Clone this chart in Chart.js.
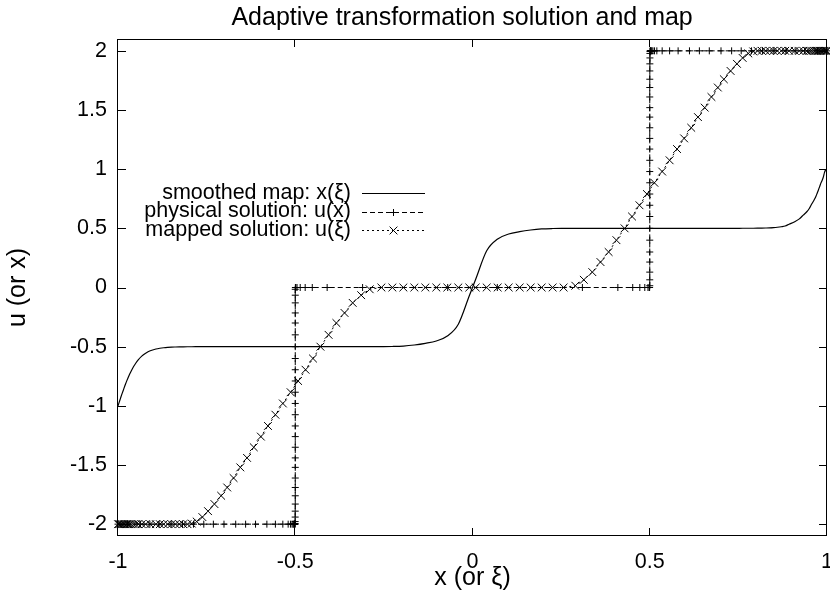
<!DOCTYPE html>
<html>
<head>
<meta charset="utf-8">
<script src="https://cdn.jsdelivr.net/npm/chart.js@4.4.0/dist/chart.umd.min.js"></script>
<style>
  html, body { margin: 0; padding: 0; background: #fff; }
</style>
</head>
<body>
<canvas id="myChart" width="830" height="596"></canvas>
<script>
// computational coordinate xi (marker positions of the mapped solution)
const xi = [
  -1.000, -0.997, -0.993, -0.990, -0.987, -0.983, -0.979, -0.975, -0.971, -0.967,
  -0.962, -0.956, -0.950, -0.943, -0.933, -0.922, -0.909, -0.893, -0.882, -0.871,
  -0.860, -0.849, -0.838, -0.827, -0.816, -0.804,
  -0.792, -0.778, -0.762, -0.746, -0.728, -0.709, -0.692, -0.674, -0.655, -0.636,
  -0.617, -0.597, -0.577, -0.556, -0.535, -0.513, -0.492, -0.471, -0.450, -0.429,
  -0.406, -0.384, -0.361, -0.338, -0.314, -0.290,
  -0.257, -0.226, -0.195, -0.164, -0.133, -0.102, -0.071, -0.040, -0.009,
  0.009, 0.040, 0.071, 0.102, 0.133, 0.164, 0.195, 0.226, 0.257,
  0.290, 0.314, 0.338, 0.361, 0.384, 0.406, 0.429, 0.450, 0.471, 0.492,
  0.513, 0.535, 0.556, 0.577, 0.597, 0.617, 0.636, 0.655, 0.674, 0.692,
  0.709, 0.728, 0.746, 0.762, 0.778, 0.792,
  0.804, 0.816, 0.827, 0.838, 0.849, 0.860, 0.871, 0.882, 0.893, 0.909,
  0.922, 0.933, 0.943, 0.950, 0.956, 0.962, 0.967, 0.971, 0.975, 0.979,
  0.983, 0.987, 0.990, 0.993, 0.997, 1.000
];

// solution values u at each grid point
const uSol = [
  -2, -2, -2, -2, -2, -2, -2, -2, -2, -2,
  -2, -2, -2, -2, -2, -2, -2, -2, -2, -2,
  -2, -2, -2, -2, -2, -2,
  -1.995, -1.978, -1.94, -1.89, -1.83, -1.76, -1.69, -1.61, -1.52, -1.44,
  -1.35, -1.26, -1.17, -1.075, -0.98, -0.885, -0.79, -0.695, -0.60, -0.50,
  -0.40, -0.30, -0.215, -0.13, -0.065, -0.015,
  0, 0, 0, 0, 0, 0, 0, 0, 0,
  0, 0, 0, 0, 0, 0, 0, 0, 0,
  0.015, 0.065, 0.13, 0.215, 0.30, 0.40, 0.50, 0.60, 0.695, 0.79,
  0.885, 0.98, 1.075, 1.17, 1.26, 1.35, 1.44, 1.52, 1.61, 1.69,
  1.76, 1.83, 1.89, 1.94, 1.978, 1.995,
  2, 2, 2, 2, 2, 2, 2, 2, 2, 2,
  2, 2, 2, 2, 2, 2, 2, 2, 2, 2,
  2, 2, 2, 2, 2, 2
];

// physical coordinate x(xi) at each grid point (smoothed map)
const xPhys = [
  -1, -0.973, -0.937, -0.910, -0.884, -0.850, -0.818, -0.787, -0.758, -0.731,
  -0.701, -0.668, -0.640, -0.612, -0.580, -0.556, -0.535, -0.520, -0.5135, -0.509,
  -0.506, -0.504, -0.5028, -0.5019, -0.5013, -0.5008,
  -0.5005, -0.5003, -0.5002, -0.5001, -0.5, -0.5, -0.5, -0.5, -0.5, -0.5,
  -0.5, -0.5, -0.5, -0.5, -0.5, -0.5, -0.5, -0.5, -0.5, -0.5,
  -0.5, -0.5, -0.5, -0.5, -0.5, -0.5,
  -0.4996, -0.4985, -0.495, -0.486, -0.472, -0.452, -0.41, -0.31, -0.07,
  0.07, 0.31, 0.41, 0.452, 0.472, 0.486, 0.495, 0.4985, 0.4996,
  0.5, 0.5, 0.5, 0.5, 0.5, 0.5, 0.5, 0.5, 0.5, 0.5,
  0.5, 0.5, 0.5, 0.5, 0.5, 0.5, 0.5, 0.5, 0.5, 0.5,
  0.5001, 0.5002, 0.5003, 0.5005, 0.5005, 0.5008,
  0.5013, 0.5019, 0.5028, 0.504, 0.506, 0.509, 0.5135, 0.520, 0.535, 0.556,
  0.580, 0.612, 0.640, 0.668, 0.701, 0.731, 0.758, 0.787, 0.818, 0.850,
  0.884, 0.910, 0.937, 0.973, 1
];

const xTicks = [-1, -0.5, 0, 0.5, 1];
const yTicks = [-2, -1.5, -1, -0.5, 0, 0.5, 1, 1.5, 2];
const seriesNames = ['smoothed map: x(\u03be)', 'physical solution: u(x)', 'mapped solution: u(\u03be)'];

const FONT = "'Liberation Sans', Arial, sans-serif";
Chart.defaults.font.family = FONT;
Chart.defaults.color = '#000';

const ctx = document.getElementById('myChart');

const mapPts = xi.map((v, i) => ({ x: v, y: xPhys[i] }));
const physPts = xPhys.map((v, i) => ({ x: v, y: uSol[i] }));
const mappedPts = xi.map((v, i) => ({ x: v, y: uSol[i] }));

const noPad = s => { s.paddingLeft = 0; s.paddingRight = 0; s.paddingTop = 0; s.paddingBottom = 0; };

// gnuplot style frame, inward ticks and key
const frame = {
  id: 'frame',
  afterDatasetsDraw(chart) {
    const c = chart.ctx;
    const a = chart.chartArea;
    const sx = chart.scales.x, sy = chart.scales.y;
    c.save();
    c.strokeStyle = '#000';
    c.lineWidth = 1;
    c.setLineDash([]);
    c.strokeRect(Math.round(a.left) - 0.5, Math.round(a.top) + 0.5,
      Math.round(a.right - a.left), Math.round(a.bottom - a.top) - 1);
    const tl = 8;
    c.beginPath();
    xTicks.forEach(v => {
      const px = Math.round(sx.getPixelForValue(v)) - 0.5;
      c.moveTo(px, a.bottom); c.lineTo(px, a.bottom - tl);
      c.moveTo(px, a.top); c.lineTo(px, a.top + tl);
    });
    yTicks.forEach(v => {
      const py = Math.round(sy.getPixelForValue(v)) + 0.5;
      c.moveTo(a.left, py); c.lineTo(a.left + tl, py);
      c.moveTo(a.right, py); c.lineTo(a.right - tl, py);
    });
    c.stroke();

    // key
    c.font = '21.5px ' + FONT;
    c.fillStyle = '#000';
    c.textAlign = 'right';
    c.textBaseline = 'middle';
    const rows = [193, 211.5, 230];
    chart.data.datasets.forEach((ds, i) => {
      const y = rows[i];
      c.fillText(seriesNames[i], 351, y);
      c.save();
      c.setLineDash(ds.borderDash || []);
      c.beginPath();
      c.moveTo(362, Math.round(y) + 0.5);
      c.lineTo(425, Math.round(y) + 0.5);
      c.stroke();
      c.restore();
      if (ds.pointRadius > 0) {
        Chart.helpers.drawPoint(c, {
          pointStyle: ds.pointStyle, radius: ds.pointRadius, rotation: 0, borderWidth: 1
        }, 393.5, Math.round(y) + 0.5);
      }
    });
    c.restore();
  }
};

new Chart(ctx, {
  type: 'scatter',
  data: {
    datasets: [{
      label: seriesNames[0],
      data: mapPts,
      showLine: true,
      borderColor: '#000',
      borderWidth: 1.2,
      pointRadius: 0,
      cubicInterpolationMode: 'monotone',
      clip: false
    }, {
      label: seriesNames[1],
      data: physPts,
      showLine: true,
      borderColor: '#000',
      borderWidth: 1,
      borderDash: [5, 3],
      pointStyle: 'cross',
      pointRadius: 3.5,
      pointBorderWidth: 1,
      pointBorderColor: '#000',
      clip: false
    }, {
      label: seriesNames[2],
      data: mappedPts,
      showLine: true,
      borderColor: '#000',
      borderWidth: 1,
      borderDash: [2, 3],
      pointStyle: 'crossRot',
      pointRadius: 5.5,
      pointBorderWidth: 1,
      pointBorderColor: '#000',
      clip: false
    }]
  },
  options: {
    responsive: false,
    animation: false,
    devicePixelRatio: 1,
    layout: { autoPadding: false, padding: { left: 0, right: 3, top: 0, bottom: 0 } },
    plugins: {
      legend: { display: false },
      tooltip: { enabled: false },
      title: {
        display: true,
        text: 'Adaptive transformation solution and map\u00a0\u00a0\u00a0',
        color: '#000',
        fullSize: false,
        font: { size: 25, weight: 'normal' },
        padding: { top: 3, bottom: 6 }
      }
    },
    scales: {
      x: {
        type: 'linear',
        min: -1,
        max: 1,
        afterBuildTicks: s => { s.ticks = xTicks.map(v => ({ value: v })); },
        afterFit: s => { s.height = 60; noPad(s); },
        grid: { display: false, drawTicks: false },
        border: { display: false },
        ticks: { color: '#000', font: { size: 21.5 }, padding: 13, maxRotation: 0, autoSkip: false,
          callback: v => String(v) },
        title: { display: true, text: 'x (or \u03be)', color: '#000', font: { size: 25 }, padding: { top: 0, bottom: 3 } }
      },
      y: {
        type: 'linear',
        min: -2.1,
        max: 2.1,
        afterBuildTicks: s => { s.ticks = yTicks.map(v => ({ value: v })); },
        afterFit: s => { s.width = 118; noPad(s); },
        grid: { display: false, drawTicks: false },
        border: { display: false },
        ticks: { color: '#000', font: { size: 21.5 }, padding: 11, autoSkip: false,
          callback: v => String(v) },
        title: { display: true, text: 'u (or x)', color: '#000', font: { size: 25 }, padding: { top: 3, bottom: 0 } }
      }
    }
  },
  plugins: [frame]
});
</script>
</body>
</html>
